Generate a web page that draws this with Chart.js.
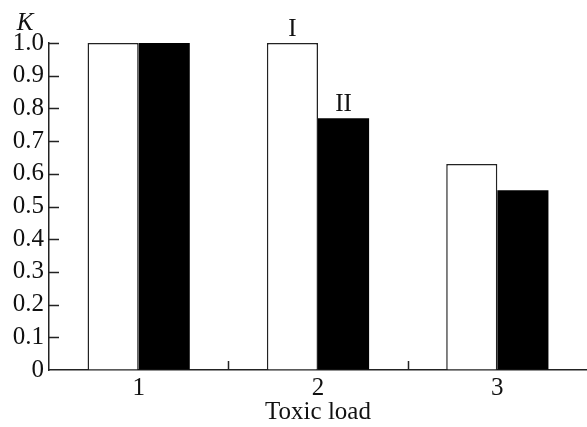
<!DOCTYPE html>
<html>
<head>
<meta charset="utf-8">
<script src="https://cdn.jsdelivr.net/npm/chart.js@4/dist/chart.umd.min.js"></script>
<style>
  html, body { margin: 0; padding: 0; background: #fff; }
  #wrap { width: 587px; height: 427px; }
</style>
</head>
<body>
<div id="wrap"><canvas id="chart" width="587" height="427"></canvas></div>
<script>
const categories = ['1', '2', '3'];
const seriesNames = ['I', 'II'];
const seriesI = [1.0, 1.0, 0.63];
const seriesII = [1.0, 0.77, 0.55];
const yTicks = [0, 0.1, 0.2, 0.3, 0.4, 0.5, 0.6, 0.7, 0.8, 0.9, 1.0];

Chart.defaults.font.family = '"Liberation Serif", "Times New Roman", serif';
Chart.defaults.color = '#111';

const axisColor = '#222';
const fontSize = 25;

// inward tick marks, series labels, and the K axis label
const extras = {
	id: 'extras',
	afterDraw(chart) {
		const { ctx, chartArea, scales: { x, y } } = chart;
		ctx.save();
		ctx.strokeStyle = axisColor;
		ctx.lineWidth = 1.5;
		ctx.beginPath();
		yTicks.forEach(v => {
			if (v === 0) return;
			const py = Math.round(y.getPixelForValue(v)) + 0.5;
			ctx.moveTo(chartArea.left, py);
			ctx.lineTo(chartArea.left + 10, py);
		});
		for (let i = 1; i < categories.length; i++) {
			const px = Math.round((x.getPixelForValue(i - 1) + x.getPixelForValue(i)) / 2) + 0.5;
			ctx.moveTo(px, chartArea.bottom);
			ctx.lineTo(px, chartArea.bottom - 9);
		}
		ctx.stroke();

		ctx.fillStyle = '#111';
		ctx.textAlign = 'center';
		ctx.textBaseline = 'alphabetic';
		ctx.font = fontSize + 'px "Liberation Serif", serif';
		seriesNames.forEach((name, i) => {
			const bar = chart.getDatasetMeta(i).data[1];
			ctx.fillText(name, bar.x, bar.y - 7);
		});

		ctx.font = 'italic ' + fontSize + 'px "Liberation Serif", serif';
		ctx.fillText('K', chartArea.left - 24, chartArea.top - 13);
		ctx.restore();
	}
};

new Chart(document.getElementById('chart'), {
	type: 'bar',
	data: {
		labels: categories,
		datasets: [{
			label: seriesNames[0],
			data: seriesI,
			backgroundColor: '#fff',
			borderColor: axisColor,
			borderWidth: 1.5,
			borderSkipped: 'bottom'
		}, {
			label: seriesNames[1],
			data: seriesII,
			backgroundColor: '#000',
			borderColor: '#000',
			borderWidth: 0
		}]
	},
	plugins: [extras],
	options: {
		responsive: false,
		animation: false,
		layout: { padding: { top: 43, right: 0, left: 0, bottom: 0 } },
		plugins: {
			legend: { display: false },
			tooltip: { enabled: false }
		},
		datasets: {
			bar: { barPercentage: 1.0, categoryPercentage: 0.57 }
		},
		scales: {
			x: {
				offset: true,
				grid: { display: true, drawOnChartArea: false, drawTicks: false, color: 'transparent' },
				border: { display: true, color: axisColor, width: 1.5 },
				ticks: { font: { size: fontSize }, padding: 3, color: '#111', autoSkip: false },
				title: {
					display: true,
					text: 'Toxic load',
					font: { size: fontSize },
					color: '#111',
					padding: { top: -7, bottom: 0 }
				},
				afterFit(scale) { scale.height = 57; }
			},
			y: {
				min: 0,
				max: 1,
				grid: { display: true, drawOnChartArea: false, drawTicks: false, color: 'transparent' },
				border: { display: true, color: axisColor, width: 1.5 },
				afterBuildTicks(scale) { scale.ticks = yTicks.map(v => ({ value: v })); },
				ticks: {
					font: { size: fontSize },
					padding: 5,
					color: '#111',
					autoSkip: false,
					callback: v => (v === 0 ? '0' : v.toFixed(1))
				},
				afterFit(scale) { scale.width = 49; }
			}
		}
	}
});
</script>
</body>
</html>
